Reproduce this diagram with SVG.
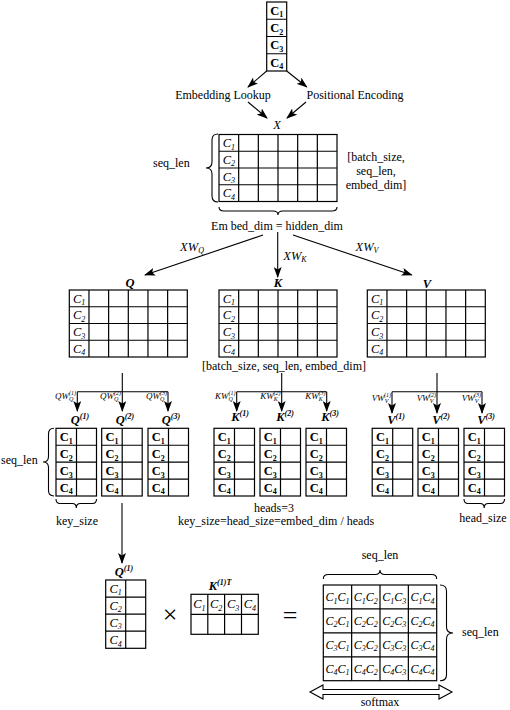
<svg xmlns="http://www.w3.org/2000/svg" width="510" height="710" viewBox="0 0 510 710">
<style>
text{font-family:"Liberation Serif","Times New Roman",serif;fill:#000}
.t{font-size:12px}
.m{text-anchor:middle}
.ci{font-style:italic;font-size:12.5px;text-anchor:middle}
.cr{font-style:italic;font-size:12px;text-anchor:middle}
.cb{font-weight:bold;font-size:12.5px;text-anchor:middle}
.s{font-size:8px}
.w{font-style:italic;font-size:9px;text-anchor:end}
.lab{font-style:italic;font-weight:bold;font-size:12.5px;text-anchor:middle}
.grid{fill:none;stroke:#000;stroke-width:1.2}
.ln{stroke:#000;stroke-width:1.1;fill:none}
.arr{marker-end:url(#ah)}
</style>
<defs>
<marker id="ah" markerWidth="11" markerHeight="8" refX="10" refY="4" orient="auto" markerUnits="userSpaceOnUse"><path d="M0,0 L11,4 L0,8 L2.5,4 z" fill="#000"/></marker>
<g id="big" class="grid"><rect x="0" y="0" width="118" height="67"/><path d="M19.67,0V67M39.33,0V67M59,0V67M78.67,0V67M98.33,0V67M0,16.75H118M0,33.5H118M0,50.25H118"/></g>
<g id="head" class="grid"><rect x="0" y="0" width="40.5" height="67.7"/><path d="M20.5,0V67.7M0,16.93H40.5M0,33.85H40.5M0,50.78H40.5"/></g>
</defs>

<g id="tokens">
<rect class="grid" x="266.7" y="2" width="20" height="69"/>
<path class="grid" d="M266.7,19.25H286.7M266.7,36.5H286.7M266.7,53.75H286.7"/>
<text class="cb" x="276.7" y="14.8">C<tspan class="s" dy="2.5">1</tspan></text>
<text class="cb" x="276.7" y="32">C<tspan class="s" dy="2.5">2</tspan></text>
<text class="cb" x="276.7" y="49.3">C<tspan class="s" dy="2.5">3</tspan></text>
<text class="cb" x="276.7" y="66.5">C<tspan class="s" dy="2.5">4</tspan></text>
</g>

<g id="embedding"><text class="t m" x="223" y="99">Embedding Lookup</text></g>
<g id="positional"><text class="t m" x="355" y="99">Positional Encoding</text></g>

<g id="X">
<text class="ci" x="277" y="129" font-size="11px">X</text>
<use href="#big" x="219" y="134.5"/>
<text class="ci" x="228.8" y="147">C<tspan class="s" dy="2.5">1</tspan></text>
<text class="ci" x="228.8" y="163.8">C<tspan class="s" dy="2.5">2</tspan></text>
<text class="ci" x="228.8" y="180.5">C<tspan class="s" dy="2.5">3</tspan></text>
<text class="ci" x="228.8" y="197.3">C<tspan class="s" dy="2.5">4</tspan></text>
<path class="ln" d="M218,134 Q212,134 212,140 L212,162 Q212,168 206,168 Q212,168 212,174 L212,196 Q212,202 218,202"/>
<text class="t" x="153" y="167">seq_len</text>
<text class="t m" x="376" y="161">[batch_size,</text>
<text class="t m" x="376" y="175">seq_len,</text>
<text class="t m" x="376" y="189">embed_dim]</text>
<path class="ln" d="M219,207 Q219,211 224,211 L273,211 Q278,211 278,215 Q278,211 283,211 L332,211 Q337,211 337,207"/>
<text class="t m" x="277" y="230">Em bed_dim = hidden_dim</text>
</g>

<g id="Q">
<text class="lab" x="130" y="287">Q</text>
<use href="#big" x="69.3" y="290"/>
<text class="ci" x="79.1" y="302.6">C<tspan class="s" dy="2.5">1</tspan></text>
<text class="ci" x="79.1" y="319.4">C<tspan class="s" dy="2.5">2</tspan></text>
<text class="ci" x="79.1" y="336.1">C<tspan class="s" dy="2.5">3</tspan></text>
<text class="ci" x="79.1" y="352.9">C<tspan class="s" dy="2.5">4</tspan></text>
</g>
<g id="K">
<text class="lab" x="278" y="287">K</text>
<use href="#big" x="219" y="290"/>
<text class="ci" x="228.8" y="302.6">C<tspan class="s" dy="2.5">1</tspan></text>
<text class="ci" x="228.8" y="319.4">C<tspan class="s" dy="2.5">2</tspan></text>
<text class="ci" x="228.8" y="336.1">C<tspan class="s" dy="2.5">3</tspan></text>
<text class="ci" x="228.8" y="352.9">C<tspan class="s" dy="2.5">4</tspan></text>
</g>
<g id="V">
<text class="lab" x="427" y="288">V</text>
<use href="#big" x="367.3" y="290"/>
<text class="ci" x="377.1" y="302.6">C<tspan class="s" dy="2.5">1</tspan></text>
<text class="ci" x="377.1" y="319.4">C<tspan class="s" dy="2.5">2</tspan></text>
<text class="ci" x="377.1" y="336.1">C<tspan class="s" dy="2.5">3</tspan></text>
<text class="ci" x="377.1" y="352.9">C<tspan class="s" dy="2.5">4</tspan></text>
</g>
<g id="shape-label"><text class="t m" x="284" y="370">[batch_size, seq_len, embed_dim]</text></g>

<g id="Q-heads">
<text class="w" x="76" y="399">QW<tspan font-size="6" dy="2">Q</tspan><tspan font-size="6" dx="-4.3" dy="-6">(1)</tspan></text>
<text class="w" x="121" y="399">QW<tspan font-size="6" dy="2">Q</tspan><tspan font-size="6" dx="-4.3" dy="-6">(2)</tspan></text>
<text class="w" x="167" y="399">QW<tspan font-size="6" dy="2">Q</tspan><tspan font-size="6" dx="-4.3" dy="-6">(3)</tspan></text>
<text class="lab" x="80" y="424">Q<tspan class="s" dy="-5">(1)</tspan></text>
<text class="lab" x="125" y="424">Q<tspan class="s" dy="-5">(2)</tspan></text>
<text class="lab" x="171" y="424">Q<tspan class="s" dy="-5">(3)</tspan></text>
<use href="#head" x="56" y="428.3"/>
<use href="#head" x="101.7" y="428.3"/>
<use href="#head" x="148" y="428.3"/>
<g>
<text class="cb" x="66.2" y="441.2">C<tspan class="s" dy="2.5">1</tspan></text>
<text class="cb" x="66.2" y="458.1">C<tspan class="s" dy="2.5">2</tspan></text>
<text class="cb" x="66.2" y="475">C<tspan class="s" dy="2.5">3</tspan></text>
<text class="cb" x="66.2" y="491.9">C<tspan class="s" dy="2.5">4</tspan></text>
<text class="cb" x="111.9" y="441.2">C<tspan class="s" dy="2.5">1</tspan></text>
<text class="cb" x="111.9" y="458.1">C<tspan class="s" dy="2.5">2</tspan></text>
<text class="cb" x="111.9" y="475">C<tspan class="s" dy="2.5">3</tspan></text>
<text class="cb" x="111.9" y="491.9">C<tspan class="s" dy="2.5">4</tspan></text>
<text class="cb" x="158.2" y="441.2">C<tspan class="s" dy="2.5">1</tspan></text>
<text class="cb" x="158.2" y="458.1">C<tspan class="s" dy="2.5">2</tspan></text>
<text class="cb" x="158.2" y="475">C<tspan class="s" dy="2.5">3</tspan></text>
<text class="cb" x="158.2" y="491.9">C<tspan class="s" dy="2.5">4</tspan></text>
</g>
<path class="ln" d="M54,428.3 Q48.5,428.3 48.5,434 L48.5,456.5 Q48.5,462 43,462 Q48.5,462 48.5,467.5 L48.5,490.3 Q48.5,496 54,496"/>
<text class="t" x="1" y="464">seq_len</text>
<path class="ln" d="M56,499 Q56,503.5 60,503.5 L72.3,503.5 Q76.3,503.5 76.3,508 Q76.3,503.5 80.3,503.5 L92.5,503.5 Q96.5,503.5 96.5,499"/>
<text class="t m" x="77" y="525">key_size</text>
</g>

<g id="K-heads">
<text class="w" x="235.5" y="399">KW<tspan font-size="6" dy="2">Q</tspan><tspan font-size="6" dx="-4.3" dy="-6">(1)</tspan></text>
<text class="w" x="280.5" y="399">KW<tspan font-size="6" dy="2">K</tspan><tspan font-size="6" dx="-4.3" dy="-6">(2)</tspan></text>
<text class="w" x="325.5" y="399">KW<tspan font-size="6" dy="2">K</tspan><tspan font-size="6" dx="-4.3" dy="-6">(3)</tspan></text>
<text class="lab" x="240" y="421">K<tspan class="s" dy="-5">(1)</tspan></text>
<text class="lab" x="285" y="421">K<tspan class="s" dy="-5">(2)</tspan></text>
<text class="lab" x="330" y="421">K<tspan class="s" dy="-5">(3)</tspan></text>
<use href="#head" x="214" y="428.3"/>
<use href="#head" x="260" y="428.3"/>
<use href="#head" x="306" y="428.3"/>
<g>
<text class="cb" x="224.2" y="441.2">C<tspan class="s" dy="2.5">1</tspan></text>
<text class="cb" x="224.2" y="458.1">C<tspan class="s" dy="2.5">2</tspan></text>
<text class="cb" x="224.2" y="475">C<tspan class="s" dy="2.5">3</tspan></text>
<text class="cb" x="224.2" y="491.9">C<tspan class="s" dy="2.5">4</tspan></text>
<text class="cb" x="270.2" y="441.2">C<tspan class="s" dy="2.5">1</tspan></text>
<text class="cb" x="270.2" y="458.1">C<tspan class="s" dy="2.5">2</tspan></text>
<text class="cb" x="270.2" y="475">C<tspan class="s" dy="2.5">3</tspan></text>
<text class="cb" x="270.2" y="491.9">C<tspan class="s" dy="2.5">4</tspan></text>
<text class="cb" x="316.2" y="441.2">C<tspan class="s" dy="2.5">1</tspan></text>
<text class="cb" x="316.2" y="458.1">C<tspan class="s" dy="2.5">2</tspan></text>
<text class="cb" x="316.2" y="475">C<tspan class="s" dy="2.5">3</tspan></text>
<text class="cb" x="316.2" y="491.9">C<tspan class="s" dy="2.5">4</tspan></text>
</g>
<text class="t m" x="274" y="512">heads=3</text>
<text class="t m" x="276" y="525">key_size=head_size=embed_dim / heads</text>
</g>

<g id="V-heads">
<text class="w" x="391" y="401">VW<tspan font-size="6" dy="2">V</tspan><tspan font-size="6" dx="-4.3" dy="-6">(1)</tspan></text>
<text class="w" x="436" y="401">VW<tspan font-size="6" dy="2">V</tspan><tspan font-size="6" dx="-4.3" dy="-6">(2)</tspan></text>
<text class="w" x="481" y="401">VW<tspan font-size="6" dy="2">V</tspan><tspan font-size="6" dx="-4.3" dy="-6">(3)</tspan></text>
<text class="lab" x="396" y="424">V<tspan class="s" dy="-5">(1)</tspan></text>
<text class="lab" x="441" y="424">V<tspan class="s" dy="-5">(2)</tspan></text>
<text class="lab" x="486" y="424">V<tspan class="s" dy="-5">(3)</tspan></text>
<use href="#head" x="372.2" y="428.3"/>
<use href="#head" x="418" y="428.3"/>
<use href="#head" x="464" y="428.3"/>
<g>
<text class="cb" x="382.4" y="441.2">C<tspan class="s" dy="2.5">1</tspan></text>
<text class="cb" x="382.4" y="458.1">C<tspan class="s" dy="2.5">2</tspan></text>
<text class="cb" x="382.4" y="475">C<tspan class="s" dy="2.5">3</tspan></text>
<text class="cb" x="382.4" y="491.9">C<tspan class="s" dy="2.5">4</tspan></text>
<text class="cb" x="428.2" y="441.2">C<tspan class="s" dy="2.5">1</tspan></text>
<text class="cb" x="428.2" y="458.1">C<tspan class="s" dy="2.5">2</tspan></text>
<text class="cb" x="428.2" y="475">C<tspan class="s" dy="2.5">3</tspan></text>
<text class="cb" x="428.2" y="491.9">C<tspan class="s" dy="2.5">4</tspan></text>
<text class="cb" x="474.2" y="441.2">C<tspan class="s" dy="2.5">1</tspan></text>
<text class="cb" x="474.2" y="458.1">C<tspan class="s" dy="2.5">2</tspan></text>
<text class="cb" x="474.2" y="475">C<tspan class="s" dy="2.5">3</tspan></text>
<text class="cb" x="474.2" y="491.9">C<tspan class="s" dy="2.5">4</tspan></text>
</g>
<path class="ln" d="M464,499 Q464,503.5 468,503.5 L480.2,503.5 Q484.2,503.5 484.2,508 Q484.2,503.5 488.2,503.5 L500.5,503.5 Q504.5,503.5 504.5,499"/>
<text class="t m" x="483" y="522">head_size</text>
</g>

<g id="Q1">
<text class="lab" x="124" y="576">Q<tspan class="s" dy="-5">(1)</tspan></text>
<rect class="grid" x="105.7" y="580" width="40" height="68.3"/>
<path class="grid" d="M125.7,580V648.3M105.7,597.1H145.7M105.7,614.2H145.7M105.7,631.2H145.7"/>
<text class="ci" x="115.7" y="592.7">C<tspan class="s" dy="2.5">1</tspan></text>
<text class="ci" x="115.7" y="609.8">C<tspan class="s" dy="2.5">2</tspan></text>
<text class="ci" x="115.7" y="626.9">C<tspan class="s" dy="2.5">3</tspan></text>
<text class="ci" x="115.7" y="644">C<tspan class="s" dy="2.5">4</tspan></text>
</g>
<g id="times"><text x="170" y="623" font-size="26" text-anchor="middle">×</text></g>
<g id="K1T">
<text class="lab" x="220" y="590">K<tspan class="s" dy="-5">(1)T</tspan></text>
<rect class="grid" x="191" y="594.3" width="67.3" height="40"/>
<path class="grid" d="M207.8,594.3V634.3M224.6,594.3V634.3M241.5,594.3V634.3M191,614.3H258.3"/>
<text class="ci" x="199.4" y="608.2">C<tspan class="s" dy="2.5">1</tspan></text>
<text class="ci" x="216.2" y="608.2">C<tspan class="s" dy="2.5">2</tspan></text>
<text class="ci" x="233.1" y="608.2">C<tspan class="s" dy="2.5">3</tspan></text>
<text class="ci" x="249.9" y="608.2">C<tspan class="s" dy="2.5">4</tspan></text>
</g>
<g id="equals"><text x="290" y="624" font-size="26" text-anchor="middle">=</text></g>
<g id="result">
<text class="t m" x="380" y="559">seq_len</text>
<path class="ln" d="M323.3,579 Q323.3,574.5 328.3,574.5 L375,574.5 Q380,574.5 380,570 Q380,574.5 385,574.5 L431.7,574.5 Q436.7,574.5 436.7,579"/>
<rect class="grid" x="323.3" y="585" width="113.4" height="95.7"/>
<path class="grid" d="M351.65,585V680.7M380,585V680.7M408.35,585V680.7M323.3,608.9H436.7M323.3,632.8H436.7M323.3,656.8H436.7"/>
<g>
<text class="cr" x="337.5" y="601">C<tspan class="s" dy="2.5">1</tspan><tspan dy="-2.5">C</tspan><tspan class="s" dy="2.5">1</tspan></text>
<text class="cr" x="365.8" y="601">C<tspan class="s" dy="2.5">1</tspan><tspan dy="-2.5">C</tspan><tspan class="s" dy="2.5">2</tspan></text>
<text class="cr" x="394.2" y="601">C<tspan class="s" dy="2.5">1</tspan><tspan dy="-2.5">C</tspan><tspan class="s" dy="2.5">3</tspan></text>
<text class="cr" x="422.5" y="601">C<tspan class="s" dy="2.5">1</tspan><tspan dy="-2.5">C</tspan><tspan class="s" dy="2.5">4</tspan></text>
<text class="cr" x="337.5" y="624.9">C<tspan class="s" dy="2.5">2</tspan><tspan dy="-2.5">C</tspan><tspan class="s" dy="2.5">1</tspan></text>
<text class="cr" x="365.8" y="624.9">C<tspan class="s" dy="2.5">2</tspan><tspan dy="-2.5">C</tspan><tspan class="s" dy="2.5">2</tspan></text>
<text class="cr" x="394.2" y="624.9">C<tspan class="s" dy="2.5">2</tspan><tspan dy="-2.5">C</tspan><tspan class="s" dy="2.5">3</tspan></text>
<text class="cr" x="422.5" y="624.9">C<tspan class="s" dy="2.5">2</tspan><tspan dy="-2.5">C</tspan><tspan class="s" dy="2.5">4</tspan></text>
<text class="cr" x="337.5" y="648.8">C<tspan class="s" dy="2.5">3</tspan><tspan dy="-2.5">C</tspan><tspan class="s" dy="2.5">1</tspan></text>
<text class="cr" x="365.8" y="648.8">C<tspan class="s" dy="2.5">3</tspan><tspan dy="-2.5">C</tspan><tspan class="s" dy="2.5">2</tspan></text>
<text class="cr" x="394.2" y="648.8">C<tspan class="s" dy="2.5">3</tspan><tspan dy="-2.5">C</tspan><tspan class="s" dy="2.5">3</tspan></text>
<text class="cr" x="422.5" y="648.8">C<tspan class="s" dy="2.5">3</tspan><tspan dy="-2.5">C</tspan><tspan class="s" dy="2.5">4</tspan></text>
<text class="cr" x="337.5" y="672.8">C<tspan class="s" dy="2.5">4</tspan><tspan dy="-2.5">C</tspan><tspan class="s" dy="2.5">1</tspan></text>
<text class="cr" x="365.8" y="672.8">C<tspan class="s" dy="2.5">4</tspan><tspan dy="-2.5">C</tspan><tspan class="s" dy="2.5">2</tspan></text>
<text class="cr" x="394.2" y="672.8">C<tspan class="s" dy="2.5">4</tspan><tspan dy="-2.5">C</tspan><tspan class="s" dy="2.5">3</tspan></text>
<text class="cr" x="422.5" y="672.8">C<tspan class="s" dy="2.5">4</tspan><tspan dy="-2.5">C</tspan><tspan class="s" dy="2.5">4</tspan></text>
</g>
<path class="ln" d="M440,585 Q446.5,585 446.5,591 L446.5,627 Q446.5,633 453,633 Q446.5,633 446.5,639 L446.5,674.7 Q446.5,680.7 440,680.7"/>
<text class="t" x="462" y="636">seq_len</text>
<polygon points="310,692 323,685 323,689.5 439,689.5 439,685 452,692 439,699 439,694.5 323,694.5 323,699" fill="#fff" stroke="#000" stroke-width="1.1"/>
<text class="t m" x="380" y="706">softmax</text>
</g>

<g id="connectors">
<path class="ln arr" d="M266.7,71 L248,87"/>
<path class="ln arr" d="M286.7,71 L306.7,87"/>
<path class="ln arr" d="M248,102 L267,118"/>
<path class="ln arr" d="M306,102 L287,118"/>
<path class="ln arr" d="M263,235 L145,275"/>
<path class="ln arr" d="M277.7,232 L277.7,277"/>
<path class="ln arr" d="M293,235 L411.7,275"/>
<text class="ci" x="192" y="251" font-size="10px">XW<tspan class="s" dy="2">Q</tspan></text>
<text class="ci" x="295" y="260" font-size="10px">XW<tspan class="s" dy="2">K</tspan></text>
<text class="ci" x="367" y="251" font-size="10px">XW<tspan class="s" dy="2">V</tspan></text>
<path class="ln" d="M122.3,373 V391.7 M77.3,391.7 H168"/>
<path class="ln arr" d="M77.3,391.7 V411"/>
<path class="ln arr" d="M122.3,391.7 V411"/>
<path class="ln arr" d="M168,391.7 V411"/>
<path class="ln" d="M281.7,373 V391.7 M236.7,391.7 H326.7"/>
<path class="ln arr" d="M236.7,391.7 V411"/>
<path class="ln arr" d="M281.7,391.7 V411"/>
<path class="ln arr" d="M326.7,391.7 V411"/>
<path class="ln" d="M437,373 V391.7 M392,391.7 H482"/>
<path class="ln arr" d="M392,391.7 V413"/>
<path class="ln arr" d="M437,391.7 V413"/>
<path class="ln arr" d="M482,391.7 V413"/>
<path class="ln arr" d="M122,503 V563"/>
</g>
</svg>
